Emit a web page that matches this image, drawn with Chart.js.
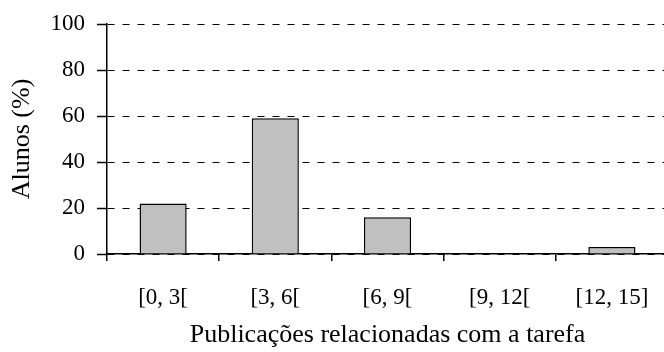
<!DOCTYPE html>
<html>
<head>
<meta charset="utf-8">
<script src="https://cdn.jsdelivr.net/npm/chart.js@4"></script>
<style>
  html, body { margin: 0; padding: 0; background: #fff; overflow: hidden; }
  #wrap { width: 668px; height: 352px; }
</style>
</head>
<body>
<div id="wrap"><canvas id="pubChart"></canvas></div>
<script>
// Publications related to the task (intervals) vs % of students
const categories = ['[0, 3[', '[3, 6[', '[6, 9[', '[9, 12[', '[12, 15]'];
const percentages = [22, 59, 16, 0, 3];
const yTicks = [0, 20, 40, 60, 80, 100];

const serif = "'Liberation Serif', 'Times New Roman', serif";

const ctx = document.getElementById('pubChart').getContext('2d');

new Chart(ctx, {
  type: 'bar',
  data: {
    labels: categories,
    datasets: [{
      data: percentages,
      backgroundColor: '#c0c0c0',
      borderColor: '#000',
      borderWidth: 1.5,
      borderSkipped: 'bottom',
      categoryPercentage: 1,
      barPercentage: 0.42
    }]
  },
  options: {
    responsive: true,
    maintainAspectRatio: false,
    animation: false,
    devicePixelRatio: 1,
    layout: { padding: { top: 24, left: 0, right: 0, bottom: 0 } },
    plugins: {
      legend: { display: false },
      tooltip: { enabled: false }
    },
    scales: {
      x: {
        offset: true,
        grid: {
          offset: true,
          drawOnChartArea: false,
          drawTicks: true,
          tickLength: 7,
          color: '#000',
          lineWidth: 1.5
        },
        border: { color: '#000', width: 1.5 },
        ticks: {
          color: '#000',
          font: { family: serif, size: 23 },
          padding: 23,
          maxRotation: 0
        },
        title: {
          display: true,
          text: 'Publicações relacionadas com a tarefa',
          color: '#000',
          font: { family: serif, size: 26 },
          padding: { top: 0, bottom: 1 }
        },
        afterFit: (scale) => {
          scale.height = 98;
          scale.paddingLeft = 0;
          scale.paddingRight = 0;
        }
      },
      y: {
        min: 0,
        max: 100,
        afterBuildTicks: (scale) => {
          scale.ticks = yTicks.map(v => ({ value: v }));
        },
        grid: {
          color: '#000',
          lineWidth: 1,
          tickLength: 10,
          tickWidth: 1.5,
          tickBorderDash: []
        },
        border: { color: '#000', width: 1.5, dash: [7, 8] },
        ticks: {
          color: '#000',
          font: { family: serif, size: 23 },
          padding: 12
        },
        title: {
          display: true,
          text: 'Alunos (%)',
          color: '#000',
          font: { family: serif, size: 26 },
          padding: { top: 7, bottom: 0 }
        },
        afterFit: (scale) => {
          scale.width = 107;
          scale.paddingTop = 0;
          scale.paddingBottom = 0;
        }
      }
    }
  }
});
</script>
</body>
</html>
